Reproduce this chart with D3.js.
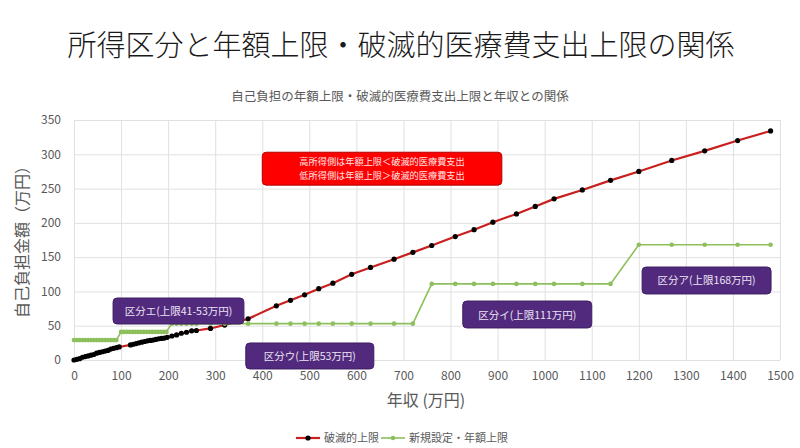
<!DOCTYPE html>
<html>
<head>
<meta charset="utf-8">
<script src="https://cdn.jsdelivr.net/npm/d3@7"></script>
<style>
  body { margin: 0; background: #fff; }
  text { font-family: "Noto Sans CJK JP", "Noto Sans", sans-serif; }
</style>
</head>
<body>
<div id="vis1"></div>
<script>
// 破滅的上限 (black markers on red line)
var hametsuX = [0,6,12,18,24,30,36,42,48,54,60,66,72,78,84,90,96,
  120,126,132,138,144,150,156,162,168,174,180,186,192,198,
  208,218,228,239,250,260,290,320,370,
  430,460,490,520,550,590,630,680,720,760,810,850,890,940,980,1020,1080,1140,1200,1270,1340,1410,1480];
var hametsuY = [0,1,2,4,5,6,7,8,10,11,12,13,14,16,17,18,19,
  22,23,24,25,26,27,28,28.5,29,30,31,31.5,32,33,
  35,36.5,39,40.5,42.5,43,46,51,60,
  79,87,95,104,112,125,135,147,157,167,180,190,201,213,224,235,248,262,275,291,305,320,334];

// 新規設定・年額上限 (green)
var nengakuX = [0,6,12,18,24,30,36,42,48,54,60,66,72,78,84,90,
  100,106,112,118,124,130,136,142,148,154,160,166,172,178,184,190,196,
  208,218,228,239,250,260,290,320,370,430,460,490,520,550,590,630,680,720,
  760,810,850,890,940,980,1020,1080,1140,
  1200,1270,1340,1410,1480];
var nengakuY = [29,29,29,29,29,29,29,29,29,29,29,29,29,29,29,29,
  41,41,41,41,41,41,41,41,41,41,41,41,41,41,41,41,41,
  53,53,53,53,53,53,53,53,53,53,53,53,53,53,53,53,53,53,
  111,111,111,111,111,111,111,111,111,
  168,168,168,168,168];

var xTicks = [0,100,200,300,400,500,600,700,800,900,1000,1100,1200,1300,1400,1500];
var yTicks = [0,50,100,150,200,250,300,350];

var seriesNames = ["破滅的上限", "新規設定・年額上限"];
var kubunLabels = ["区分エ(上限41-53万円)", "区分ウ(上限53万円)", "区分イ(上限111万円)", "区分ア(上限168万円)"];
var noteLines = ["高所得側は年額上限＜破滅的医療費支出", "低所得側は年額上限＞破滅的医療費支出"];

(function(){
  var width = 800;
  var height = 448;

  var svg = d3.select("#vis1")
    .append('svg')
    .attr('width', width)
    .attr('height', height);

  svg.append('text')
    .attr('x', 401).attr('y', 56)
    .attr('text-anchor', 'middle')
    .attr('font-size', 29)
    .attr('font-weight', 300)
    .attr('fill', '#1a1a1a')
    .text("所得区分と年額上限・破滅的医療費支出上限の関係");

  svg.append('text')
    .attr('x', 400).attr('y', 101)
    .attr('text-anchor', 'middle')
    .attr('font-size', 12.5)
    .attr('fill', '#595959')
    .text("自己負担の年額上限・破滅的医療費支出上限と年収との関係");

  var x_scale = d3.scaleLinear().domain([0, 1500]).range([74, 780]);
  var y_scale = d3.scaleLinear().domain([0, 350]).range([360, 120]);

  // grid
  svg.append('g')
    .attr('transform', 'translate(0,' + y_scale(0) + ')')
    .call(d3.axisBottom(x_scale).tickValues(xTicks).tickSize(-(y_scale(0) - y_scale(350))).tickFormat(''))
    .call(function(g){ g.select('.domain').remove(); })
    .selectAll('line').attr('stroke', '#e0e0e0');

  svg.append('g')
    .attr('transform', 'translate(' + x_scale(0) + ',0)')
    .call(d3.axisLeft(y_scale).tickValues(yTicks).tickSize(-(x_scale(1500) - x_scale(0))).tickFormat(''))
    .call(function(g){ g.select('.domain').remove(); })
    .selectAll('line').attr('stroke', '#e0e0e0');

  // tick labels
  var xAxis = svg.append('g')
    .attr('transform', 'translate(0,' + (y_scale(0) + 8) + ')')
    .call(d3.axisBottom(x_scale).tickValues(xTicks).tickSize(0).tickFormat(d3.format('d')));
  xAxis.select('.domain').remove();
  xAxis.selectAll('text').attr('font-size', 12).attr('fill', '#595959')
    .style('font-family', '"Noto Sans CJK JP", sans-serif');

  var yAxis = svg.append('g')
    .attr('transform', 'translate(' + (x_scale(0) - 10) + ',0)')
    .call(d3.axisLeft(y_scale).tickValues(yTicks).tickSize(0));
  yAxis.select('.domain').remove();
  yAxis.selectAll('text').attr('font-size', 12).attr('fill', '#595959')
    .style('font-family', '"Noto Sans CJK JP", sans-serif');

  // axis titles
  svg.append("text")
    .attr("text-anchor", "middle")
    .attr("transform", "rotate(-90)")
    .attr("y", 28)
    .attr("x", -238)
    .attr('font-size', 16)
    .attr('fill', '#595959')
    .text("自己負担金額（万円）");

  svg.append("text")
    .attr("text-anchor", "middle")
    .attr('y', 406)
    .attr("x", 426)
    .attr('font-size', 16)
    .attr('fill', '#595959')
    .text("年収 (万円)");

  var line = d3.line()
    .x(function(d){ return x_scale(d[0]); })
    .y(function(d){ return y_scale(d[1]); });

  var hametsu = hametsuX.map(function(v, i){ return [v, hametsuY[i]]; });
  var nengaku = nengakuX.map(function(v, i){ return [v, nengakuY[i]]; });

  svg.append('path')
    .datum(hametsu)
    .attr('d', line)
    .attr('fill', 'none')
    .attr('stroke', '#c8201e')
    .attr('stroke-width', 2.2);

  svg.selectAll('.dot1')
    .data(hametsu)
    .enter()
    .append('circle')
    .attr('class', 'dot1')
    .attr('cx', function(d){ return x_scale(d[0]); })
    .attr('cy', function(d){ return y_scale(d[1]); })
    .attr('r', 2.6)
    .attr('fill', '#000');

  svg.append('path')
    .datum(nengaku)
    .attr('d', line)
    .attr('fill', 'none')
    .attr('stroke', '#8dc05c')
    .attr('stroke-width', 1.6);

  svg.selectAll('.dot2')
    .data(nengaku)
    .enter()
    .append('circle')
    .attr('class', 'dot2')
    .attr('cx', function(d){ return x_scale(d[0]); })
    .attr('cy', function(d){ return y_scale(d[1]); })
    .attr('r', 2.3)
    .attr('fill', '#8dc05c');

  // red note box (data units)
  var note = svg.append('g');
  note.append('rect')
    .attr('x', x_scale(400)).attr('y', y_scale(303))
    .attr('width', x_scale(909) - x_scale(400))
    .attr('height', y_scale(255) - y_scale(303))
    .attr('rx', 4)
    .attr('fill', '#ff0000')
    .attr('stroke', '#b00000')
    .attr('stroke-width', 1);
  note.selectAll('text')
    .data(noteLines)
    .enter()
    .append('text')
    .attr('x', (x_scale(400) + x_scale(909)) / 2)
    .attr('y', function(d, i){ return y_scale(303) + 13 + i * 13.5; })
    .attr('text-anchor', 'middle')
    .attr('font-size', 9.2)
    .attr('fill', '#ffe6e6')
    .text(function(d){ return d; });

  // purple labels: [x0, x1, yTop, yBottom] in data units
  var boxes = [[83, 361, 90.4, 52.5], [365, 637, 24.8, -13.1], [826, 1100, 86, 46.7], [1207, 1481, 135.6, 96.3]];
  var lab = svg.selectAll('.kubun')
    .data(kubunLabels)
    .enter()
    .append('g')
    .attr('class', 'kubun');
  lab.append('rect')
    .attr('x', function(d, i){ return x_scale(boxes[i][0]); })
    .attr('y', function(d, i){ return y_scale(boxes[i][2]); })
    .attr('width', function(d, i){ return x_scale(boxes[i][1]) - x_scale(boxes[i][0]); })
    .attr('height', function(d, i){ return y_scale(boxes[i][3]) - y_scale(boxes[i][2]); })
    .attr('rx', 4)
    .attr('fill', '#522a7d')
    .attr('stroke', '#3e1f63')
    .attr('stroke-width', 1);
  lab.append('text')
    .attr('x', function(d, i){ return (x_scale(boxes[i][0]) + x_scale(boxes[i][1])) / 2; })
    .attr('y', function(d, i){ return (y_scale(boxes[i][2]) + y_scale(boxes[i][3])) / 2 + 4; })
    .attr('text-anchor', 'middle')
    .attr('font-size', 10.5)
    .attr('fill', '#ebe4f3')
    .text(function(d){ return d; });

  // legend
  var legend = svg.append('g').attr('transform', 'translate(0,438)');
  var legX = [296, 381];
  var legColor = ['#c8201e', '#8dc05c'];
  var legDot = ['#000', '#8dc05c'];
  seriesNames.forEach(function(name, i){
    legend.append('line')
      .attr('x1', legX[i]).attr('x2', legX[i] + 24)
      .attr('y1', 0).attr('y2', 0)
      .attr('stroke', legColor[i])
      .attr('stroke-width', i === 0 ? 2.2 : 1.6);
    legend.append('circle')
      .attr('cx', legX[i] + 12).attr('cy', 0)
      .attr('r', i === 0 ? 2.6 : 2.3)
      .attr('fill', legDot[i]);
    legend.append('text')
      .attr('x', legX[i] + 28).attr('y', 4)
      .attr('font-size', 11)
      .attr('fill', '#595959')
      .text(name);
  });
})();
</script>
</body>
</html>
